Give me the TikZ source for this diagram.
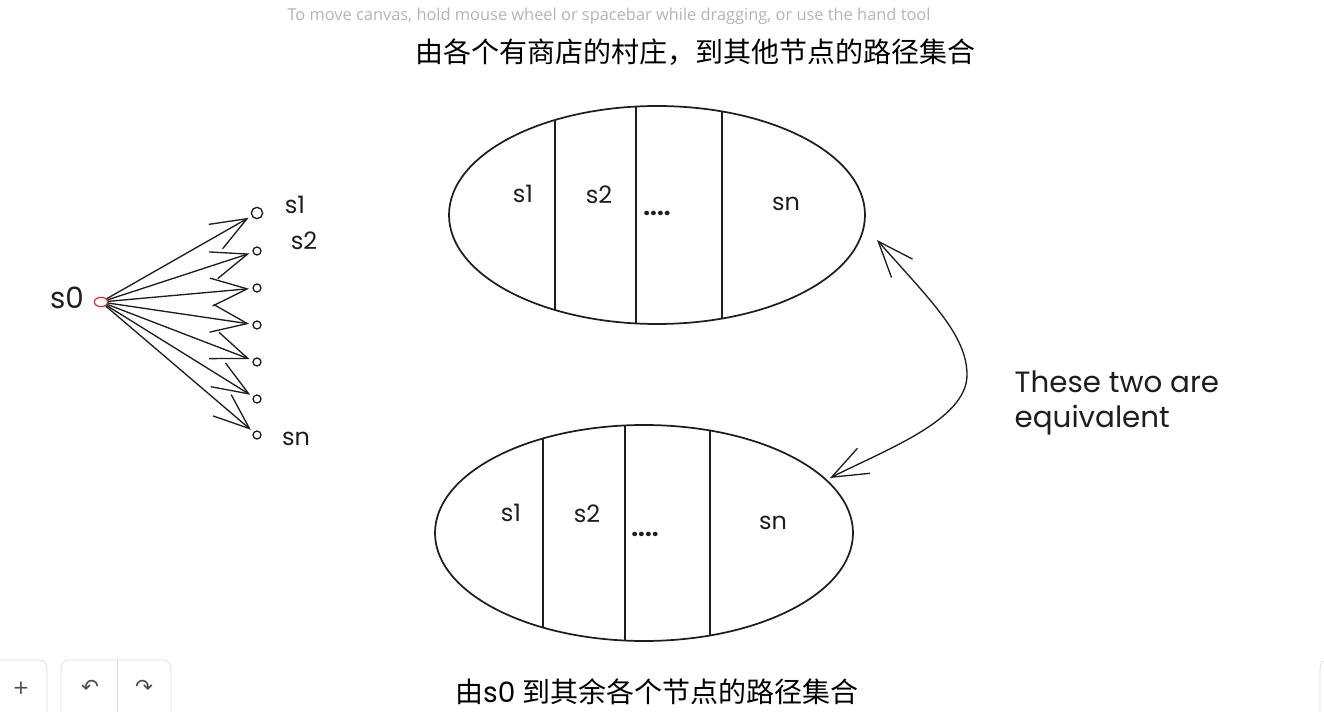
\documentclass[tikz,border=0pt]{standalone}
\usepackage{fontspec}
\setmainfont{Poppins}
\newfontfamily\cjk{Noto Sans CJK SC}
\newfontfamily\hintfont{Open Sans}
\newfontfamily\symfont{DejaVu Sans}
\usetikzlibrary{shapes.geometric, arrows.meta, positioning}
\definecolor{pencil}{RGB}{30,30,30}
\definecolor{hintgray}{RGB}{180,180,180}
\definecolor{uigray}{RGB}{222,222,222}
\definecolor{sourcered}{RGB}{224,49,49}
\tikzset{
  sketch/.style={draw=pencil, line width=1.3pt},
  barb/.tip={Straight Barb[length=27pt, width=21pt]},
  lbl/.style={font=\fontsize{18}{20}\selectfont, text=pencil},
  target/.style={circle, draw=pencil, line width=1pt, inner sep=0pt, minimum size=6pt},
  uibox/.style={draw=uigray, line width=0.6pt, rounded corners=6pt}
}

\begin{document}
\begin{tikzpicture}[x=0.75pt, y=-0.75pt]
        \useasboundingbox (0,0) rectangle (1324,712);
        \def\topx{657}\def\topy{215}
        \def\botx{644}\def\boty{533}

        % Hint and titles
        \node[text=hintgray, font=\hintfont\fontsize{12.3}{14}\selectfont] (hint) at (609,16) {To move canvas, hold mouse wheel or spacebar while dragging, or use the hand tool};
        \node[font=\cjk\fontsize{21}{24}\selectfont] (title1) at (695,52) {由各个有商店的村庄，到其他节点的路径集合};
        \node[font=\fontsize{21}{24}\selectfont] (title2) at (657,692) {{\cjk 由}s0 {\cjk 到其余各个节点的路径集合}};

        % Source and targets
        \node[ellipse, draw=sourcered, line width=0.9pt, minimum width=10pt, minimum height=7pt, inner sep=0pt] (src) at (101,302) {};
        \node[lbl, font=\fontsize{22}{24}\selectfont] (s0) at (67,298) {s0};
        \node[target, minimum size=8.5pt] (t1) at (257,213) {};
        \foreach \i/\y in {2/251, 3/288, 4/325, 5/362, 6/399, 7/435}
            \node[target] (t\i) at (257,\y) {};
        \foreach \i in {1,...,7}
            \draw[pencil, line width=1pt, -{barb}, shorten >=2.5pt] (src) -- (t\i);
        \node[lbl] (l1) at (295,205) {s1};
        \node[lbl] (l2) at (304,241) {s2};
        \node[lbl] (ln) at (296,439) {sn};

        % Upper set
        \node[ellipse, sketch, minimum width=312pt, minimum height=163.5pt, inner sep=0pt] (top) at (\topx,\topy) {};
        \begin{scope}
            \clip (\topx,\topy) ellipse [x radius=156pt, y radius=81.75pt];
            \foreach \x in {555, 636, 722}
                \draw[sketch] (\x,100) -- (\x,330);
        \end{scope}
        \node[lbl] (a1) at (523,194) {s1};
        \node[lbl] (a2) at (599,195) {s2};
        \node[lbl, font=\bfseries\fontsize{18}{20}\selectfont] (ad) at (657,213) {....};
        \node[lbl] (an) at (786,204) {sn};

        % Lower set
        \node[ellipse, sketch, minimum width=313.5pt, minimum height=162pt, inner sep=0pt] (bot) at (\botx,\boty) {};
        \begin{scope}
            \clip (\botx,\boty) ellipse [x radius=156.75pt, y radius=81pt];
            \foreach \x in {543, 625, 710}
                \draw[sketch] (\x,420) -- (\x,650);
        \end{scope}
        \node[lbl] (b1) at (511,513) {s1};
        \node[lbl] (b2) at (587,514) {s2};
        \node[lbl, font=\bfseries\fontsize{18}{20}\selectfont] (bd) at (645,534) {....};
        \node[lbl] (bn) at (773,523) {sn};

        % Equivalence arrow
        \coordinate (eqA) at (877,240);
        \coordinate (eqB) at (830,478);
        \draw[pencil, line width=1pt, {barb}-{barb}] (eqA) .. controls (930,300) and (967,335) .. (967,375) .. controls (967,420) and (885,450) .. (eqB);
        \node[lbl, anchor=west, align=left, font=\fontsize{22}{26}\selectfont] (eqtext) at (1010,403) {These two are\\equivalent};

        % Canvas buttons
        \draw[uibox] (-10,660) rectangle (47,725);
        \draw[uibox] (61,660) rectangle (171,725);
        \draw[uigray, line width=0.6pt] (117,660) -- (117,712);
        \node[text=black!70, font=\symfont\fontsize{15}{16}\selectfont] (zoomin) at (21,688) {+};
        \node[text=black!70, font=\symfont\fontsize{16}{18}\selectfont] (undo) at (90,687) {↶};
        \node[text=black!70, font=\symfont\fontsize{16}{18}\selectfont] (redo) at (144,687) {↷};
        \begin{scope}
            \clip (0,0) rectangle (1324,712);
            \draw[uibox] (1320,660) rectangle (1380,725);
        \end{scope}
    \end{tikzpicture}
\end{document}
